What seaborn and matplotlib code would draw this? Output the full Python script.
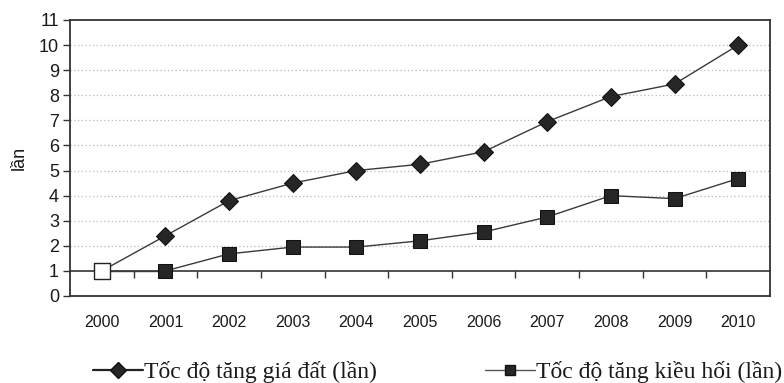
import matplotlib
matplotlib.use("Agg")
import matplotlib.pyplot as plt
from matplotlib.lines import Line2D
import seaborn as sns
import pandas as pd

years = ["2000", "2001", "2002", "2003", "2004", "2005",
         "2006", "2007", "2008", "2009", "2010"]
land_price = [1.0, 2.4, 3.8, 4.5, 5.0, 5.25, 5.75, 6.95, 7.95, 8.45, 10.0]
remittance = [1.0, 1.0, 1.68, 1.95, 1.95, 2.2, 2.55, 3.15, 4.0, 3.88, 4.68]
label_land = "Tốc độ tăng giá đất (lần)"
label_remit = "Tốc độ tăng kiều hối (lần)"
y_ticks = list(range(0, 12))
base_value = 1

sns.set_theme(style="white")
plt.rcParams["font.family"] = ["Liberation Sans", "DejaVu Sans"]

pos = list(range(len(years)))
df = pd.DataFrame({"pos": pos, "land": land_price, "remit": remittance})

fig = plt.figure(figsize=(7.84, 3.83), dpi=100)
ax = fig.add_axes([70 / 784, 1 - 296 / 383, 700 / 784, 276 / 383])

line_col = "#3a3a3a"
mark_col = "#262626"

# dotted horizontal gridlines
for v in y_ticks[2:-1]:
    ax.axhline(v, color="#b8b8b8", lw=0.9, ls=(0, (1, 2)), zorder=0)

# baseline at 1 with category-boundary ticks
base_axis = ax.secondary_xaxis(base_value / y_ticks[-1])
base_axis.set_xticks([p + 0.5 for p in pos[:-1]])
base_axis.set_xticklabels([])
base_axis.tick_params(axis="x", direction="out", length=5, width=1.0, color="#333333")
base_axis.spines["bottom"].set_color("#333333")
base_axis.spines["bottom"].set_linewidth(1.2)

sns.lineplot(data=df.iloc[1:], x="pos", y="land", ax=ax, color=line_col, lw=1.0,
             marker="D", markersize=9, markerfacecolor=mark_col,
             markeredgecolor="#111111", zorder=3)
sns.lineplot(data=df.iloc[1:], x="pos", y="remit", ax=ax, color=line_col, lw=1.0,
             marker="s", markersize=10, markerfacecolor=mark_col,
             markeredgecolor="#111111", zorder=3)
# first year connects to both series from the common starting value
sns.lineplot(data=df.iloc[:2], x="pos", y="land", ax=ax, color=line_col, lw=1.0, zorder=2)
sns.lineplot(data=df.iloc[:2], x="pos", y="remit", ax=ax, color=line_col, lw=1.0, zorder=2)
sns.scatterplot(data=df.iloc[:1], x="pos", y="land", ax=ax, marker="s", s=130,
                color="white", edgecolor="#222222", linewidth=1.0, zorder=4)

ax.set_xlim(-0.5, len(years) - 0.5)
ax.set_ylim(y_ticks[0], y_ticks[-1])
ax.set_xticks(pos)
ax.set_xticklabels(years, fontsize=11.5, color="#1a1a1a")
ax.tick_params(axis="x", length=0, pad=14)
ax.set_yticks(y_ticks)
ax.set_yticklabels([str(v) for v in y_ticks], fontsize=13, color="#1a1a1a")
ax.tick_params(axis="y", direction="out", length=5, width=1.0, color="#333333",
               left=True, pad=3)
ax.set_xlabel("")
ax.set_ylabel("lần", fontsize=13, color="#1a1a1a", labelpad=8)
for s in ax.spines.values():
    s.set_color("#333333")
    s.set_linewidth(1.3)

handles = [
    Line2D([], [], color="#222222", lw=1.6, marker="D", markersize=8,
           markerfacecolor=mark_col, markeredgecolor="#111111"),
    Line2D([], [], color="#555555", lw=1.0, marker="s", markersize=7,
           markerfacecolor=mark_col, markeredgecolor="#111111"),
]
fig.legend(handles, [label_land, label_remit], loc="center left",
           bbox_to_anchor=(93 / 784, 1 - 372 / 383), ncol=2, frameon=False,
           prop={"family": ["Liberation Serif", "DejaVu Serif"], "size": 17},
           handlelength=2.1, handletextpad=0.05, columnspacing=4.6,
           borderaxespad=0.0, borderpad=0.0, labelcolor="#1a1a1a")

fig.savefig("out.png", dpi=100, facecolor="white")
